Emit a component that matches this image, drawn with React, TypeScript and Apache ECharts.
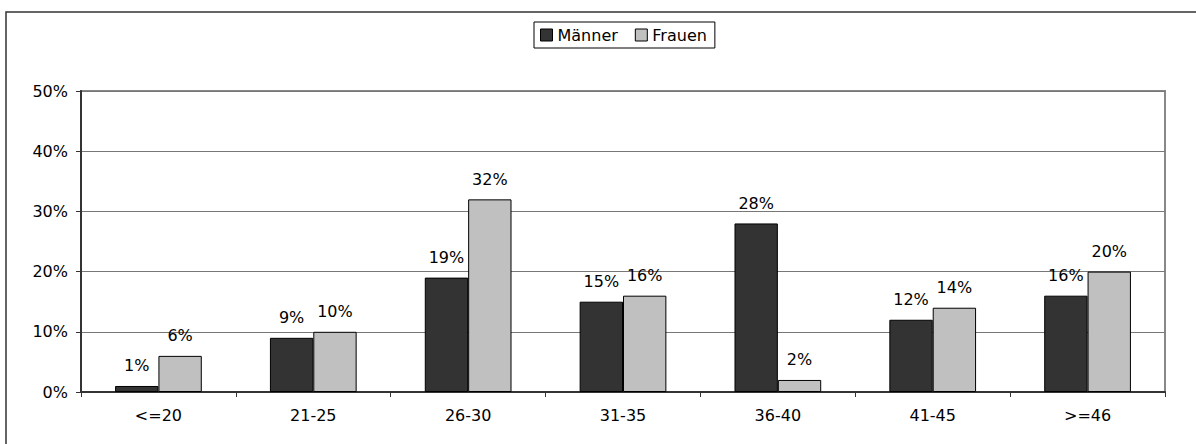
import React, { useEffect, useRef } from "react";
import * as echarts from "echarts";

const categories = ["<=20", "21-25", "26-30", "31-35", "36-40", "41-45", ">=46"];
const maenner = [1, 9, 19, 15, 28, 12, 16];
const frauen = [6, 10, 32, 16, 2, 14, 20];
const seriesNames = ["Männer", "Frauen"];

const FONT = "DejaVu Sans, Verdana, sans-serif";
const FS = 16;

export default function App() {
  const ref = useRef<HTMLDivElement>(null);
  useEffect(() => {
    if (!ref.current) return;
    const chart = echarts.init(ref.current, null, { renderer: "svg" });
    const labelCfg = {
      show: true,
      position: "top",
      distance: 12,
      formatter: "{c}%",
      color: "#000",
      fontSize: FS,
      fontFamily: FONT,
    };
    chart.setOption({
      animation: false,
      backgroundColor: "#fff",
      textStyle: { fontFamily: FONT },
      graphic: [
        {
          type: "rect",
          shape: { x: 6, y: 12, width: 1200, height: 440 },
          style: { fill: "none", stroke: "#333", lineWidth: 1.5 },
          silent: true,
        },
      ],
      legend: {
        data: seriesNames,
        left: 534,
        top: 22,
        orient: "horizontal",
        icon: "rect",
        itemWidth: 12,
        itemHeight: 12,
        itemGap: 17,
        padding: [5, 8, 5, 6],
        borderColor: "#000",
        borderWidth: 1,
        textStyle: { fontSize: FS, color: "#000", fontFamily: FONT },
        itemStyle: { borderColor: "#000", borderWidth: 1 },
      },
      grid: {
        left: 81,
        right: 31,
        top: 91,
        bottom: 52,
        show: true,
        borderColor: "#888",
        borderWidth: 2,
        backgroundColor: "#fff",
        containLabel: false,
      },
      xAxis: {
        type: "category",
        data: categories,
        axisLine: { show: true, lineStyle: { color: "#333", width: 2 } },
        axisTick: { show: true, length: 5, lineStyle: { color: "#333", width: 1 } },
        axisLabel: { color: "#000", fontSize: FS, margin: 15, fontFamily: FONT },
        splitLine: { show: false },
      },
      yAxis: {
        type: "value",
        min: 0,
        max: 50,
        interval: 10,
        axisLine: { show: true, lineStyle: { color: "#333", width: 2 } },
        axisTick: { show: true, length: 5, lineStyle: { color: "#333", width: 1 } },
        axisLabel: { color: "#000", fontSize: FS, margin: 13, formatter: "{value}%", fontFamily: FONT },
        splitLine: { show: true, lineStyle: { color: "#777", width: 1 } },
      },
      series: [
        {
          name: seriesNames[0],
          type: "bar",
          data: maenner,
          barGap: "0%",
          barCategoryGap: "44%",
          itemStyle: { color: "#333333", borderColor: "#000", borderWidth: 1 },
          label: labelCfg,
        },
        {
          name: seriesNames[1],
          type: "bar",
          data: frauen,
          barGap: "0%",
          barCategoryGap: "44%",
          itemStyle: { color: "#c0c0c0", borderColor: "#000", borderWidth: 1 },
          label: labelCfg,
        },
      ],
    });
    return () => chart.dispose();
  }, []);
  return (
    <div
      ref={ref}
      style={{ position: "absolute", left: 0, top: 0, width: 1196, height: 444 }}
    />
  );
}
